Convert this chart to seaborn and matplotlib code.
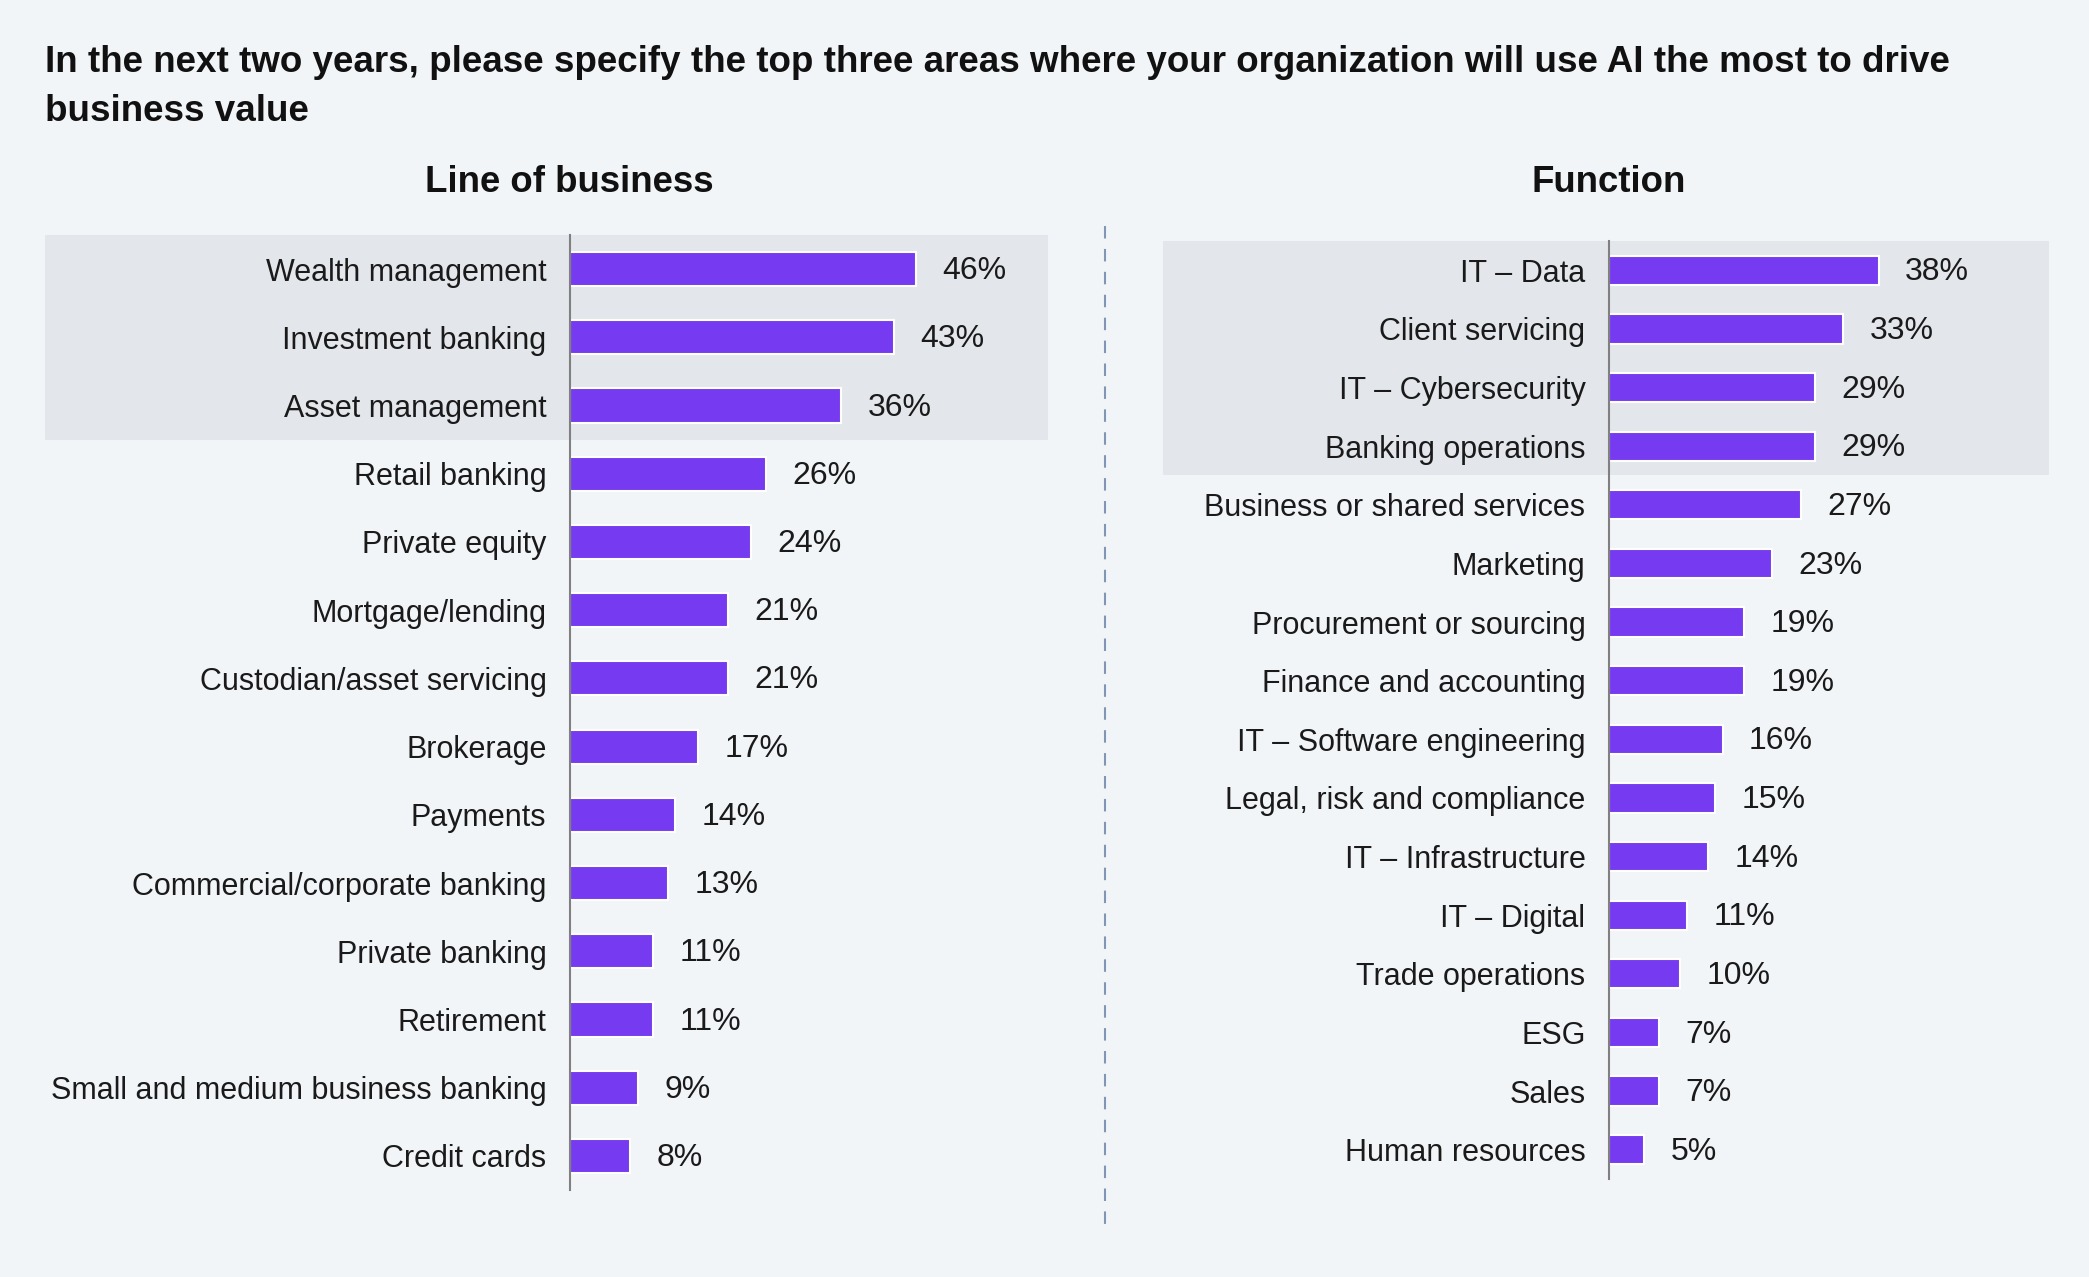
import matplotlib
matplotlib.use("Agg")
import matplotlib.pyplot as plt
import matplotlib.transforms as mtransforms
from matplotlib.patches import Rectangle
from matplotlib.lines import Line2D
import seaborn as sns

# Data
lob_labels = ["Wealth management", "Investment banking", "Asset management", "Retail banking",
              "Private equity", "Mortgage/lending", "Custodian/asset servicing", "Brokerage",
              "Payments", "Commercial/corporate banking", "Private banking", "Retirement",
              "Small and medium business banking", "Credit cards"]
lob_values = [46, 43, 36, 26, 24, 21, 21, 17, 14, 13, 11, 11, 9, 8]

func_labels = ["IT \u2013 Data", "Client servicing", "IT \u2013 Cybersecurity", "Banking operations",
               "Business or shared services", "Marketing", "Procurement or sourcing",
               "Finance and accounting", "IT \u2013 Software engineering", "Legal, risk and compliance",
               "IT \u2013 Infrastructure", "IT \u2013 Digital", "Trade operations", "ESG", "Sales",
               "Human resources"]
func_values = [38, 33, 29, 29, 27, 23, 19, 19, 16, 15, 14, 11, 10, 7, 7, 5]

title = ("In the next two years, please specify the top three areas where your organization will use AI the most to drive\n"
         "business value")

BG = "#F2F5F8"
HL = "#E3E6EB"
BAR = "#763BF0"

sns.set_style("white")
plt.rcParams["font.family"] = ["Liberation Sans", "DejaVu Sans"]

W, H = 2089, 1277
fig = plt.figure(figsize=(W / 100, H / 100), dpi=100, facecolor=BG)


def frac(x0, y0, x1, y1):
    return [x0 / W, 1 - y1 / H, (x1 - x0) / W, (y1 - y0) / H]


ax1 = fig.add_axes(frac(570, 235, 1048, 1190))
ax2 = fig.add_axes(frac(1609, 241, 2049, 1179))


def panel(ax, labels, values, xmax, n_hl, box_left):
    ax.set_facecolor("none")
    # grey box behind the top rows
    trans = mtransforms.blended_transform_factory(ax.transAxes, ax.transData)
    ax.add_patch(Rectangle((box_left, -0.5), 1 - box_left, n_hl, transform=trans,
                           facecolor=HL, edgecolor="none", clip_on=False, zorder=0))
    sns.barplot(x=values, y=labels, orient="h", color=BAR, edgecolor="white",
                linewidth=1.5, width=0.5, saturation=1, ax=ax, zorder=2)
    texts = ax.bar_label(ax.containers[0], labels=[f"{v}%" for v in values], padding=19,
                         fontsize=23, color="#1a1a1a")
    # nudge value labels down a touch
    for t in texts:
        t.xyann = (19, -1.5)
    ax.set_xlim(0, xmax)
    ax.set_ylim(len(values) - 0.5, -0.5)
    ax.set_xlabel("")
    ax.set_ylabel("")
    ax.set_xticks([])
    ax.tick_params(axis="y", length=0, pad=17, labelsize=22, labelcolor="#1a1a1a")
    for s in ["top", "right", "bottom"]:
        ax.spines[s].set_visible(False)
    ax.spines["left"].set_color("#808080")
    ax.spines["left"].set_linewidth(1.5)
    ax.spines["left"].set_zorder(3)


panel(ax1, lob_labels, lob_values, 63.5, 3, (45 - 570) / 478)
panel(ax2, func_labels, func_values, 62.0, 4, (1163 - 1609) / 440)

fig.text(45 / W, 1 - 87 / H, title, fontsize=26.5, fontweight="bold",
         ha="left", va="center", linespacing=1.52, color="#111111")
fig.text(569 / W, 1 - 182 / H, "Line of business", fontsize=26.4, fontweight="bold",
         ha="center", va="center", color="#111111")
fig.text(1609 / W, 1 - 182 / H, "Function", fontsize=26.4, fontweight="bold",
         ha="center", va="center", color="#111111")

# dashed divider between the panels
fig.add_artist(Line2D([1104.5 / W, 1104.5 / W], [1 - 226 / H, 1 - 1232 / H],
                      transform=fig.transFigure, color="#8096B4", lw=1.5,
                      linestyle=(0, (6, 5))))

fig.savefig("out.png", dpi=100, facecolor=BG)
